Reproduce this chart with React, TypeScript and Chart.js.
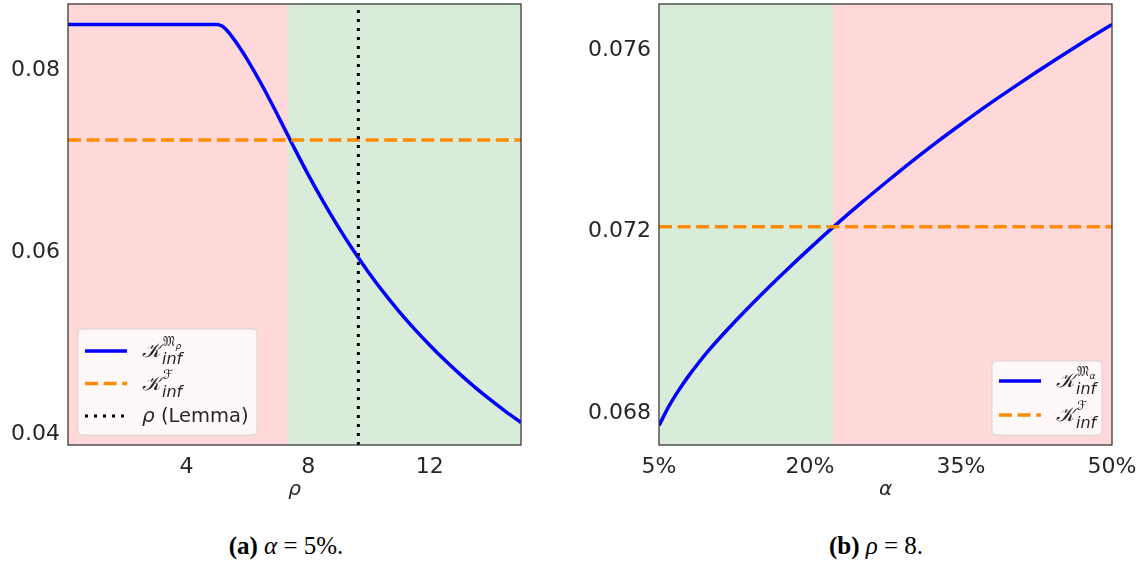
import React, { useEffect, useRef } from "react";
import { Chart, registerables } from "chart.js";
Chart.register(...registerables);

// ---------- Panel (a): alpha = 5% ----------
const RHO = [0.1, 1, 2, 3, 4, 5, 5.15, 5.3, 5.5, 5.75, 6, 6.5, 7, 7.5, 8, 8.5, 9, 9.5, 10, 10.5, 11, 11.5, 12, 12.5, 13, 13.5, 14, 14.5, 15];
const K_M_RHO = [0.085, 0.085, 0.085, 0.085, 0.085, 0.085, 0.08485, 0.08444, 0.08364, 0.08245, 0.08114, 0.07821, 0.07501, 0.07171, 0.0685, 0.0655, 0.0627, 0.0601, 0.0577, 0.05548, 0.05343, 0.05153, 0.04976, 0.0481, 0.04655, 0.0451, 0.04374, 0.04246, 0.04126];
const K_F_A = 0.0723;
const RHO_LEMMA = 9.65;
const RHO_CROSS = 7.35;
const A_X_TICKS = [4, 8, 12];
const A_X_TICK_LABELS = ["4", "8", "12"];
const A_Y_TICKS = [0.04, 0.06, 0.08];
const A_Y_TICK_LABELS = ["0.04", "0.06", "0.08"];
const A_Y_MIN = 0.03879;
const A_Y_MAX = 0.08725;

// ---------- Panel (b): rho = 8 ----------
const ALPHA = [5, 6, 7, 8, 9, 10, 12.5, 15, 17.5, 20, 22.5, 25, 27.5, 30, 32.5, 35, 37.5, 40, 42.5, 45, 47.5, 50];
const K_M_ALPHA = [0.06772, 0.06815, 0.06851, 0.06883, 0.06912, 0.06939, 0.07, 0.07057, 0.07111, 0.07163, 0.07213, 0.07261, 0.07307, 0.07352, 0.07395, 0.07436, 0.07476, 0.07514, 0.07551, 0.07587, 0.07622, 0.07656];
const K_F_B = 0.0721;
const ALPHA_CROSS = 22.3;
const B_X_TICKS = [5, 20, 35, 50];
const B_X_TICK_LABELS = ["5%", "20%", "35%", "50%"];
const B_Y_TICKS = [0.068, 0.072, 0.076];
const B_Y_TICK_LABELS = ["0.068", "0.072", "0.076"];
const B_Y_MIN = 0.06729;
const B_Y_MAX = 0.07701;

const BLUE = "#0000ff";
const ORANGE = "#ff8c00";
const PINK = "rgba(255,0,0,0.15)";
const GREEN = "rgba(0,128,0,0.15)";
const TEXT = "#262626";
const SANS = "'DejaVu Sans'";
const MATH = "'DejaVu Serif', 'DejaVu Sans', serif";

const CANVAS_H = 510;
const DASHED = [13, 5.6];
const DOTTED = [3, 6];

type LegendItem = {
  style: "solid" | "dashed" | "dotted";
  color: string;
  kind: "K" | "text";
  sup?: string;
  supSub?: string;
  sym?: string;
  rest?: string;
};

type PanelProps = {
  left: number;
  width: number;
  yAxisWidth: number;
  padRight: number;
  xs: number[];
  ys: number[];
  hline: number;
  vline?: number;
  yMin: number;
  yMax: number;
  xTicks: number[];
  xTickLabels: string[];
  yTicks: number[];
  yTickLabels: string[];
  xTitle: string;
  regions: { from: number; to: number; color: string }[];
  legend: LegendItem[];
  legendBox: { w: number; h: number; side: "left" | "right" };
};

function drawLegend(ctx: CanvasRenderingContext2D, ca: any, p: PanelProps) {
  const { w, h, side } = p.legendBox;
  const x0 = side === "left" ? ca.left + 10 : ca.right - 10 - w;
  const y0 = ca.bottom - 10 - h;
  ctx.save();
  ctx.beginPath();
  const r = 4;
  ctx.moveTo(x0 + r, y0);
  ctx.arcTo(x0 + w, y0, x0 + w, y0 + h, r);
  ctx.arcTo(x0 + w, y0 + h, x0, y0 + h, r);
  ctx.arcTo(x0, y0 + h, x0, y0, r);
  ctx.arcTo(x0, y0, x0 + w, y0, r);
  ctx.closePath();
  ctx.fillStyle = "rgba(255,255,255,0.8)";
  ctx.fill();
  ctx.strokeStyle = "rgba(204,204,204,0.8)";
  ctx.lineWidth = 1;
  ctx.stroke();

  const rowH = p.legend.length === 3 ? 32.5 : 34;
  const firstY = y0 + (p.legend.length === 3 ? 22 : 20);
  p.legend.forEach((it, i) => {
    const cy = firstY + i * rowH;
    const hx = x0 + 7;
    ctx.save();
    ctx.strokeStyle = it.color;
    ctx.lineWidth = it.style === "dotted" ? 3 : 3.5;
    ctx.lineCap = "butt";
    ctx.setLineDash(it.style === "dashed" ? DASHED : it.style === "dotted" ? DOTTED : []);
    ctx.beginPath();
    ctx.moveTo(hx, cy);
    ctx.lineTo(hx + 42, cy);
    ctx.stroke();
    ctx.restore();

    const tx = hx + 57;
    ctx.fillStyle = TEXT;
    ctx.textAlign = "left";
    ctx.textBaseline = "alphabetic";
    if (it.kind === "K") {
      ctx.font = `italic 20px ${MATH}`;
      ctx.fillText("𝒦", tx, cy + 6);
      const wK = ctx.measureText("𝒦").width;
      const sx = tx + wK + 1;
      ctx.font = `italic 16px ${SANS}`;
      ctx.fillText("inf", sx, cy + 13);
      ctx.font = `13px ${MATH}`;
      ctx.fillText(it.sup || "", sx + 1, cy - 5);
      const wS = ctx.measureText(it.sup || "").width;
      if (it.supSub) {
        ctx.font = `italic 9px ${SANS}`;
        ctx.fillText(it.supSub, sx + 1 + wS + 0.5, cy - 2);
      }
    } else {
      ctx.textBaseline = "middle";
      ctx.font = `italic 20px ${SANS}`;
      ctx.fillText(it.sym || "", tx, cy + 1);
      const ws = ctx.measureText(it.sym || "").width;
      ctx.font = `19.5px ${SANS}`;
      ctx.fillText(it.rest || "", tx + ws, cy + 1);
    }
  });
  ctx.restore();
}

function Panel(p: PanelProps) {
  const ref = useRef<HTMLCanvasElement>(null);
  useEffect(() => {
    const xMin = p.xs[0];
    const xMax = p.xs[p.xs.length - 1];
    const datasets: any[] = [
      {
        data: p.xs.map((x, i) => ({ x, y: p.ys[i] })),
        borderColor: BLUE,
        borderWidth: 3.5,
        pointRadius: 0,
        cubicInterpolationMode: "monotone",
        order: 2,
      },
      {
        data: [
          { x: xMin, y: p.hline },
          { x: xMax, y: p.hline },
        ],
        borderColor: ORANGE,
        borderWidth: 3.5,
        borderDash: DASHED,
        pointRadius: 0,
        order: 1,
      },
    ];
    if (p.vline !== undefined) {
      datasets.push({
        data: [
          { x: p.vline, y: p.yMin },
          { x: p.vline, y: p.yMax },
        ],
        borderColor: "#000",
        borderWidth: 3,
        borderDash: DOTTED,
        borderCapStyle: "butt",
        pointRadius: 0,
        order: 0,
      });
    }
    const plugin = {
      id: "panelDecor",
      beforeDatasetsDraw(chart: any) {
        const { ctx, chartArea: ca, scales } = chart;
        ctx.save();
        for (const r of p.regions) {
          const a = scales.x.getPixelForValue(r.from);
          const b = scales.x.getPixelForValue(r.to);
          ctx.fillStyle = r.color;
          ctx.fillRect(a, ca.top, b - a, ca.bottom - ca.top);
        }
        ctx.restore();
      },
      afterDatasetsDraw(chart: any) {
        const { ctx, chartArea: ca } = chart;
        ctx.save();
        ctx.strokeStyle = "#333333";
        ctx.lineWidth = 1.25;
        ctx.strokeRect(ca.left, ca.top, ca.right - ca.left, ca.bottom - ca.top);
        ctx.restore();
      },
      afterDraw(chart: any) {
        drawLegend(chart.ctx, chart.chartArea, p);
      },
    };
    const zeroPad = (s: any) => {
      s.paddingTop = 0;
      s.paddingBottom = 0;
      s.paddingLeft = 0;
      s.paddingRight = 0;
    };
    const chart = new Chart(ref.current!, {
      type: "line",
      data: { datasets },
      plugins: [plugin],
      options: {
        responsive: false,
        animation: false,
        events: [],
        layout: { padding: { top: 4, left: 0, right: p.padRight, bottom: 0 } },
        plugins: { legend: { display: false }, tooltip: { enabled: false } },
        scales: {
          x: {
            type: "linear",
            min: xMin,
            max: xMax,
            bounds: "data",
            grid: { display: false, drawTicks: false },
            border: { display: false },
            afterBuildTicks: (s: any) => {
              s.ticks = p.xTicks.map((v) => ({ value: v }));
            },
            afterFit: (s: any) => {
              s.height = CANVAS_H - 445;
              zeroPad(s);
            },
            ticks: {
              autoSkip: false,
              maxRotation: 0,
              padding: 9,
              color: TEXT,
              font: { family: "DejaVu Sans", size: 22 },
              callback: (_v: any, i: number) => p.xTickLabels[i],
            },
            title: {
              display: true,
              text: p.xTitle,
              color: TEXT,
              font: { family: "DejaVu Sans", size: 20, style: "italic" },
              padding: { top: 0, bottom: 8 },
            },
          },
          y: {
            type: "linear",
            min: p.yMin,
            max: p.yMax,
            bounds: "data",
            grid: { display: false, drawTicks: false },
            border: { display: false },
            afterBuildTicks: (s: any) => {
              s.ticks = p.yTicks.map((v) => ({ value: v }));
            },
            afterFit: (s: any) => {
              s.width = p.yAxisWidth;
              zeroPad(s);
            },
            ticks: {
              autoSkip: false,
              padding: 8,
              color: TEXT,
              font: { family: "DejaVu Sans", size: 22 },
              callback: (_v: any, i: number) => p.yTickLabels[i],
            },
          },
        },
      } as any,
    });
    return () => chart.destroy();
  }, []);
  return (
    <canvas
      ref={ref}
      width={p.width}
      height={CANVAS_H}
      style={{ position: "absolute", left: p.left, top: 0, width: p.width, height: CANVAS_H }}
    />
  );
}

const captionStyle: React.CSSProperties = {
  position: "absolute",
  top: 532,
  textAlign: "center",
  fontFamily: "'Liberation Serif', serif",
  fontSize: 25,
  color: "#000",
  whiteSpace: "nowrap",
};

export default function App() {
  return (
    <div style={{ position: "absolute", left: 0, top: 0, width: 1144, height: 566, background: "#fff", overflow: "hidden" }}>
      <Panel
        left={0}
        width={572}
        yAxisWidth={68}
        padRight={572 - 521}
        xs={RHO}
        ys={K_M_RHO}
        hline={K_F_A}
        vline={RHO_LEMMA}
        yMin={A_Y_MIN}
        yMax={A_Y_MAX}
        xTicks={A_X_TICKS}
        xTickLabels={A_X_TICK_LABELS}
        yTicks={A_Y_TICKS}
        yTickLabels={A_Y_TICK_LABELS}
        xTitle="ρ"
        regions={[
          { from: RHO[0], to: RHO_CROSS, color: PINK },
          { from: RHO_CROSS, to: RHO[RHO.length - 1], color: GREEN },
        ]}
        legend={[
          { style: "solid", color: BLUE, kind: "K", sup: "𝔐", supSub: "ρ" },
          { style: "dashed", color: ORANGE, kind: "K", sup: "ℱ" },
          { style: "dotted", color: "#000", kind: "text", sym: "ρ", rest: " (Lemma)" },
        ]}
        legendBox={{ w: 179, h: 106, side: "left" }}
      />
      <Panel
        left={572}
        width={572}
        yAxisWidth={659 - 572}
        padRight={1144 - 1112}
        xs={ALPHA}
        ys={K_M_ALPHA}
        hline={K_F_B}
        yMin={B_Y_MIN}
        yMax={B_Y_MAX}
        xTicks={B_X_TICKS}
        xTickLabels={B_X_TICK_LABELS}
        yTicks={B_Y_TICKS}
        yTickLabels={B_Y_TICK_LABELS}
        xTitle="α"
        regions={[
          { from: ALPHA[0], to: ALPHA_CROSS, color: GREEN },
          { from: ALPHA_CROSS, to: ALPHA[ALPHA.length - 1], color: PINK },
        ]}
        legend={[
          { style: "solid", color: BLUE, kind: "K", sup: "𝔐", supSub: "α" },
          { style: "dashed", color: ORANGE, kind: "K", sup: "ℱ" },
        ]}
        legendBox={{ w: 110, h: 74, side: "right" }}
      />
      <div style={{ ...captionStyle, left: 0, width: 572 }}>
        <b>(a)</b> <i>α</i>&nbsp;= 5%.
      </div>
      <div style={{ ...captionStyle, left: 608, width: 536 }}>
        <b>(b)</b> <i>ρ</i>&nbsp;= 8.
      </div>
    </div>
  );
}
